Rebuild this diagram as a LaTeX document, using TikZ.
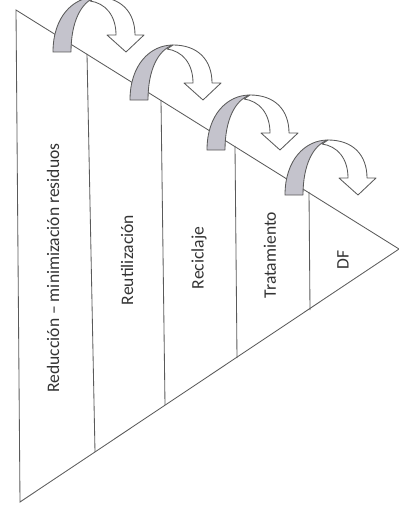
\documentclass[tikz,border=0pt]{standalone}
\usepackage{fontspec}
\setmainfont{Carlito}
\usepackage{tikz}
\usetikzlibrary{positioning}

\definecolor{edgegray}{HTML}{5A5A5A}
\definecolor{bandgray}{HTML}{C4C3CC}
\definecolor{inkgray}{HTML}{333333}

\begin{document}
\begin{tikzpicture}[
        x=0.025cm, y=0.025cm,
        % Define styles
        edge/.style={draw=edgegray, line width=0.6pt},
        level/.style={rotate=90, font=\fontsize{12.5}{14}\selectfont, text=inkgray, inner sep=1pt},
        band/.style={draw=edgegray, line width=0.6pt, line join=round},
        loop arrow/.pic={
            % rising (shaded) part
            \path[band, fill=bandgray] (0,0) .. controls (0,35) and (20,55) .. (43,55)
                .. controls (28,50) and (18,30) .. (18,0) -- cycle;
            % falling part with head
            \path[band, fill=white] (43,55) .. controls (68,55) and (82,40) .. (82,17)
                -- (91,17) -- (73,0) -- (54,17) -- (63,17)
                .. controls (63,37) and (52,49) .. (37,51) -- cycle;
        }
    ]

    \useasboundingbox (0,0) rectangle (399,-512);

    % 1. Pyramid outline
    \coordinate (tl) at (16,-10);
    \coordinate (bl) at (20,-502);
    \coordinate (apex) at (399,-249);
    \draw[edge] (tl) -- (apex) -- (bl) -- cycle;

    % 2. Dividers between levels
    \coordinate (d1t) at (87,-54);   \coordinate (d1b) at (95,-452);
    \coordinate (d2t) at (161,-100); \coordinate (d2b) at (165,-405);
    \coordinate (d3t) at (235,-146); \coordinate (d3b) at (237,-358);
    \coordinate (d4t) at (309,-192); \coordinate (d4b) at (310,-310);
    \draw[edge] (d1t) -- (d1b);
    \draw[edge] (d2t) -- (d2b);
    \draw[edge] (d3t) -- (d3b);
    \draw[edge] (d4t) -- (d4b);

    % 3. Level labels
    \node[level] (reduccion) at (53,-268) {Reducción – minimización residuos};
    \node[level] (reutil) at (127,-260) {Reutilización};
    \node[level] (reciclaje) at (199,-258) {Reciclaje};
    \node[level] (tratam) at (270,-255) {Tratamiento};
    \node[level] (df) at (343,-260) {DF};

    % 4. Curved arrows over the top edge
    \pic at (53,-52) {loop arrow};
    \pic at (130,-100) {loop arrow};
    \pic at (207,-150) {loop arrow};
    \pic at (285,-195) {loop arrow};

\end{tikzpicture}
\end{document}
